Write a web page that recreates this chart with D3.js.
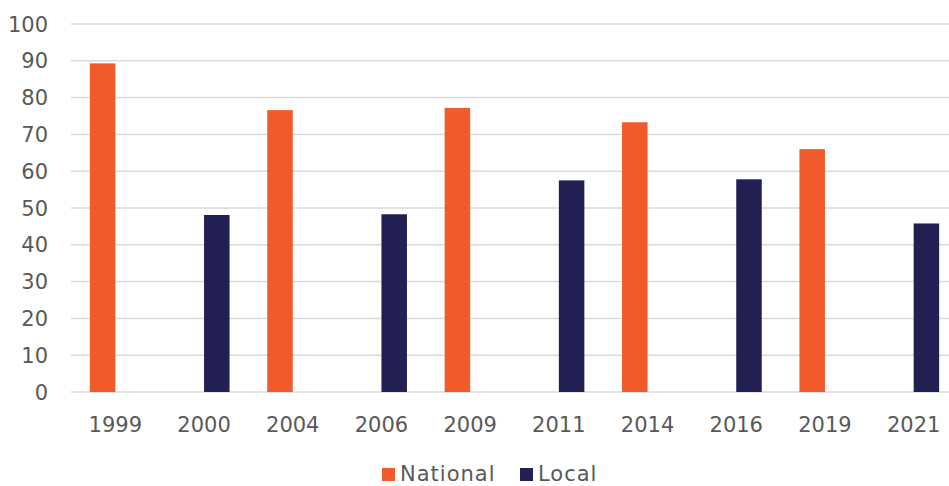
<!DOCTYPE html>
<html>
<head>
<meta charset="utf-8">
<script src="https://cdn.jsdelivr.net/npm/d3@7"></script>
<style>
  body { margin: 0; background: #fff; }
  svg text { font-family: "DejaVu Sans", sans-serif; fill: #595959; }
</style>
</head>
<body>
<div id="container"></div>
<script>
/* CONSTANTS AND GLOBALS */
const width = 949,
  height = 486,
  margin = { top: 24, bottom: 94, left: 71, right: -9 };

// DATA
const years = ["1999", "2000", "2004", "2006", "2009", "2011", "2014", "2016", "2019", "2021"];
const national = [89.3, null, 76.6, null, 77.2, null, 73.3, null, 66.0, null];
const local = [null, 48.1, null, 48.3, null, 57.5, null, 57.8, null, 45.8];
const seriesNames = ["National", "Local"];
const seriesColors = ["#F15A2B", "#221F53"];
const yTicks = [0, 10, 20, 30, 40, 50, 60, 70, 80, 90, 100];

const rows = years.map((y, i) => ({ year: y, National: national[i], Local: local[i] }));

// SCALES
const x0 = d3.scaleBand()
  .domain(years)
  .range([margin.left, width - margin.right])
  .paddingInner(0.425)
  .paddingOuter(0.2125);

const x1 = d3.scaleBand()
  .domain(seriesNames)
  .range([0, x0.bandwidth()]);

const y = d3.scaleLinear()
  .domain([0, 100])
  .range([height - margin.bottom, margin.top]);

const color = d3.scaleOrdinal().domain(seriesNames).range(seriesColors);

// SVG
const svg = d3.select("#container")
  .append("svg")
  .attr("width", width)
  .attr("height", height);

// GRIDLINES
svg.selectAll(".grid")
  .data(yTicks)
  .join("line")
  .attr("class", "grid")
  .attr("x1", margin.left)
  .attr("x2", width - margin.right)
  .attr("y1", d => y(d))
  .attr("y2", d => y(d))
  .attr("stroke", "#d9d9d9")
  .attr("stroke-width", 1.5);

// Y LABELS
svg.selectAll(".ylab")
  .data(yTicks)
  .join("text")
  .attr("class", "ylab")
  .attr("x", 48)
  .attr("y", d => y(d))
  .attr("dy", "0.36em")
  .attr("text-anchor", "end")
  .attr("font-size", 21)
  .text(d => d);

// BARS
const groups = svg.selectAll(".group")
  .data(rows)
  .join("g")
  .attr("class", "group")
  .attr("transform", d => `translate(${x0(d.year)},0)`);

groups.selectAll("rect")
  .data(d => seriesNames.map(k => ({ key: k, value: d[k] })).filter(v => v.value != null))
  .join("rect")
  .attr("x", d => x1(d.key))
  .attr("width", x1.bandwidth())
  .attr("y", d => y(d.value))
  .attr("height", d => y(0) - y(d.value))
  .attr("fill", d => color(d.key));

// X LABELS
svg.selectAll(".xlab")
  .data(years)
  .join("text")
  .attr("class", "xlab")
  .attr("x", d => x0(d) + x0.bandwidth() / 2)
  .attr("y", 432)
  .attr("text-anchor", "middle")
  .attr("font-size", 21)
  .text(d => d);

// LEGEND
const legendX = [382, 520];
const legend = svg.selectAll(".legend")
  .data(seriesNames)
  .join("g")
  .attr("class", "legend")
  .attr("transform", (d, i) => `translate(${legendX[i]},468)`);

legend.append("rect")
  .attr("width", 13)
  .attr("height", 13)
  .attr("fill", d => color(d));

legend.append("text")
  .attr("x", 18)
  .attr("y", 13)
  .attr("font-size", 21)
  .attr("letter-spacing", 1)
  .text(d => d);
</script>
</body>
</html>
